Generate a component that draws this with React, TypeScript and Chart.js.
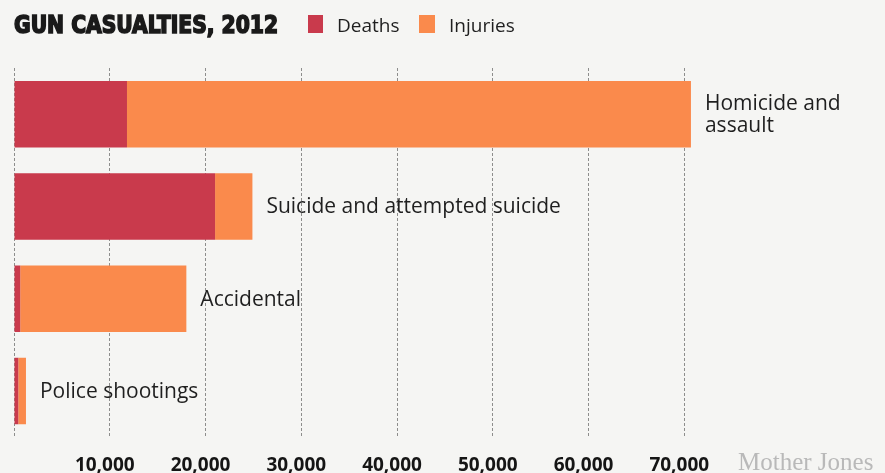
import React, { useEffect, useRef } from "react";
import { Chart, registerables } from "chart.js";

Chart.register(...registerables);

const categories = ["Homicide and assault", "Suicide and attempted suicide", "Accidental", "Police shootings"];
const categoryLines = [["Homicide and", "assault"], ["Suicide and attempted suicide"], ["Accidental"], ["Police shootings"]];
const deaths = [11800, 21000, 650, 450];
const injuries = [58900, 3900, 17350, 800];
const tickValues = [10000, 20000, 30000, 40000, 50000, 60000, 70000];
const titleText = "GUN CASUALTIES, 2012";
const seriesNames = ["Deaths", "Injuries"];
const sourceText = "Mother Jones";

const DEATH_COLOR = "#c93a4c";
const INJURY_COLOR = "#fa8a4c";
const BG = "#f5f5f3";

export default function App() {
  const ref = useRef<HTMLCanvasElement | null>(null);

  useEffect(() => {
    document.body.style.margin = "0";
    const canvas = ref.current;
    if (!canvas) return;

    const decor = {
      id: "decor",
      beforeDraw(chart: any) {
        const c = chart.ctx;
        c.save();
        c.fillStyle = BG;
        c.fillRect(0, 0, chart.width, chart.height);
        c.restore();
      },
      afterDatasetsDraw(chart: any) {
        const c = chart.ctx;
        const xs = chart.scales.x;
        const ys = chart.scales.y;
        c.save();
        c.fillStyle = "#1f1f1f";
        c.font = "21px 'Open Sans'";
        c.textBaseline = "middle";
        categories.forEach((cat, i) => {
          const total = deaths[i] + injuries[i];
          const x = xs.getPixelForValue(total) + 14;
          const y = ys.getPixelForValue(i) + 1;
          const lines = categoryLines[i];
          const lh = 22;
          lines.forEach((ln, k) => {
            c.fillText(ln, x, y + (k - (lines.length - 1) / 2) * lh);
          });
        });
        c.restore();
      },
      afterDraw(chart: any) {
        const c = chart.ctx;
        c.save();
        // title
        c.fillStyle = "#1a1a1a";
        c.strokeStyle = "#1a1a1a";
        c.lineWidth = 1.6;
        c.font = "bold 25px 'DejaVu Sans Condensed', 'DejaVu Sans'";
        c.textBaseline = "alphabetic";
        c.fillText(titleText, 14, 33, 264);
        c.strokeText(titleText, 14, 33, 264);
        // legend
        c.font = "19px 'Open Sans'";
        c.fillStyle = DEATH_COLOR;
        c.fillRect(308, 15, 15, 18);
        c.fillStyle = "#1f1f1f";
        c.fillText(seriesNames[0], 337, 32);
        c.fillStyle = INJURY_COLOR;
        c.fillRect(419, 15, 16, 18);
        c.fillStyle = "#1f1f1f";
        c.fillText(seriesNames[1], 449, 32);
        // source
        c.font = "25px 'Liberation Serif'";
        c.fillStyle = "#b9b9b9";
        c.fillText(sourceText, 738, 470);
        c.restore();
      },
    };

    const chart = new Chart(canvas, {
      type: "bar",
      data: {
        labels: categories,
        datasets: [
          {
            label: seriesNames[0],
            data: deaths,
            backgroundColor: DEATH_COLOR,
            borderWidth: 0,
            barPercentage: 0.72,
            categoryPercentage: 1,
          },
          {
            label: seriesNames[1],
            data: injuries,
            backgroundColor: INJURY_COLOR,
            borderWidth: 0,
            barPercentage: 0.72,
            categoryPercentage: 1,
          },
        ],
      },
      options: {
        indexAxis: "y",
        responsive: false,
        animation: false,
        devicePixelRatio: 1,
        layout: { autoPadding: false, padding: { left: 14, right: 105, top: 68, bottom: -21 } },
        plugins: {
          legend: { display: false },
          tooltip: { enabled: false },
          title: { display: false },
        },
        scales: {
          x: {
            type: "linear",
            stacked: true,
            min: 0,
            max: 80000,
            position: "bottom",
            afterBuildTicks(scale: any) {
              scale.ticks = [0, ...tickValues].map((v) => ({ value: v }));
            },
            afterFit(scale: any) {
              scale.paddingLeft = 0;
              scale.paddingRight = 0;
            },
            border: { display: false, dash: [3, 2] },
            grid: {
              color: "rgba(105,105,105,0.75)",
              lineWidth: 1,
              drawTicks: false,
              borderDash: [3, 2],
            },
            ticks: {
              autoSkip: false,
              maxRotation: 0,
              padding: 17,
              labelOffset: -5,
              color: "#151515",
              font: { family: "'Open Sans'", size: 19, weight: "bold" },
              callback: (v: any) => (v === 0 ? "" : Number(v).toLocaleString("en-US")),
            },
          },
          y: {
            type: "category",
            stacked: true,
            display: false,
          },
        },
      },
      plugins: [decor],
    } as any);

    return () => chart.destroy();
  }, []);

  return (
    <div style={{ position: "absolute", left: 0, top: 0, width: 885, height: 473, background: BG }}>
      <canvas ref={ref} width={885} height={473} style={{ width: 885, height: 473, display: "block" }} />
    </div>
  );
}
